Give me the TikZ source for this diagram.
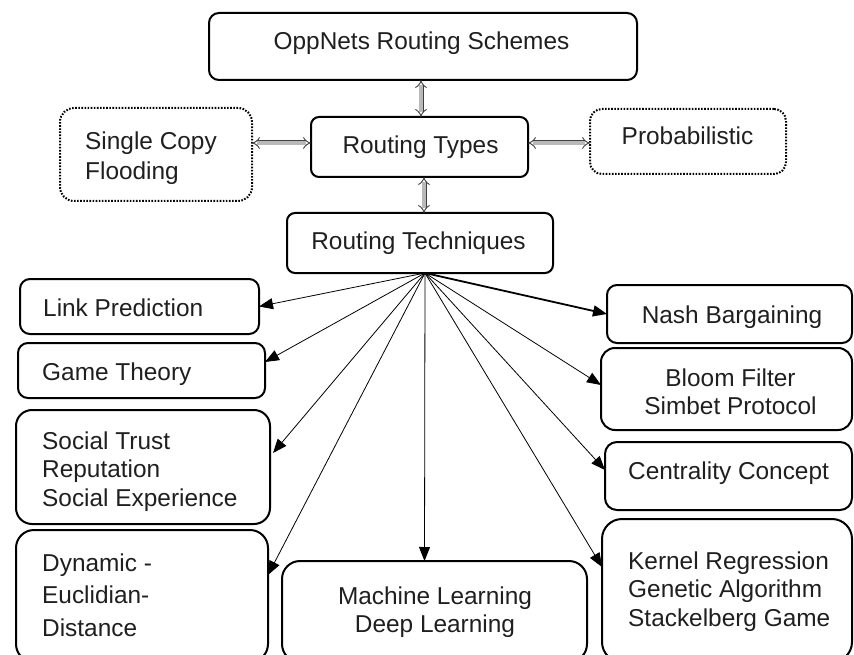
\documentclass[tikz,border=0pt]{standalone}
\usepackage{fontspec}
\setmainfont{Liberation Sans}
\usetikzlibrary{arrows.meta}
% multi-line box text whose baseline is the first line
\newcommand\boxtext[2]{\begin{tabular}[t]{@{}#1@{}}#2\end{tabular}}
\begin{document}
\begin{tikzpicture}[x=1pt,y=-1pt,
  solidbox/.style={draw=black, line width=2pt, rounded corners=#1,
    anchor=north west, inner sep=0pt, outer sep=0pt},
  solidbox/.default=10pt,
  dotbox/.style={draw=black, line width=2pt, dash pattern=on 1.6pt off 1.5pt,
    rounded corners=#1, anchor=north west, inner sep=0pt, outer sep=0pt},
  dotbox/.default=13pt,
  txt/.style={inner sep=0pt, font=\fontsize{24.4}{28}\selectfont, text=black!88},
  spoke/.style={draw=black, line width=0.8pt, -{Triangle[length=14pt,width=11pt]}},
  dbl/.style={{Implies[scale=1.2]}-{Implies[scale=1.2]}, draw=black!75, line width=0.9pt,
    double=gray!55, double distance=3.2pt}]
\useasboundingbox (0,0) rectangle (854,655);

% upper part: scheme, types, techniques
\node[solidbox, minimum width=428pt, minimum height=67pt] (top) at (209,13) {};
\node[txt, anchor=base] (top-t) at (421.5,50) {OppNets Routing Schemes};

\node[solidbox=8pt, minimum width=217pt, minimum height=60pt] (rtypes) at (311,117) {};
\node[txt, anchor=base] (rtypes-t) at (420.5,154) {Routing Types};

\node[solidbox=8pt, minimum width=266pt, minimum height=60pt] (rtech) at (287,213) {};
\node[txt, anchor=base] (rtech-t) at (418.5,250) {Routing Techniques};

\node[dotbox=14pt, minimum width=192pt, minimum height=93pt] (single) at (60,108) {};
\node[txt, anchor=base west] (single-t) at (85,150) {\boxtext{l}{Single Copy\\[2pt] Flooding}};

\node[dotbox=12pt, minimum width=196pt, minimum height=65pt] (prob) at (590,109) {};
\node[txt, anchor=base] (prob-t) at (687.5,145) {Probabilistic};

% left column of techniques
\node[solidbox, minimum width=239pt, minimum height=55pt] (link) at (20,279) {};
\node[txt, anchor=base west] (link-t) at (43,316) {Link Prediction};

\node[solidbox, minimum width=247pt, minimum height=55pt] (game) at (18,343) {};
\node[txt, anchor=base west] (game-t) at (42,380) {Game Theory};

\node[solidbox=16pt, minimum width=254pt, minimum height=114pt] (social) at (16,410) {};
\node[txt, anchor=base west] (social-t) at (42,449)
  {\boxtext{l}{Social Trust\\[0.5pt] Reputation\\[0.5pt] Social Experience}};

\node[solidbox=18pt, minimum width=252pt, minimum height=132pt] (dyn) at (16,530) {};
\node[txt, anchor=base west] (dyn-t) at (42,571)
  {\boxtext{l}{Dynamic -\\[4.5pt] Euclidian-\\[4.5pt] Distance}};

% middle
\node[solidbox=18pt, minimum width=305pt, minimum height=101pt] (ml) at (282,561) {};
\node[txt, anchor=base] (ml-t) at (435,604) {\boxtext{c}{Machine Learning\\ Deep Learning}};

% right column of techniques
\node[solidbox, minimum width=245pt, minimum height=58pt] (nash) at (607,285) {};
\node[txt, anchor=base] (nash-t) at (732,323) {Nash Bargaining};

\node[solidbox=14pt, minimum width=251pt, minimum height=82pt] (bloom) at (601,348) {};
\node[txt, anchor=base] (bloom-t) at (730.5,386) {\boxtext{c}{Bloom Filter\\ Simbet Protocol}};

\node[solidbox=12pt, minimum width=247pt, minimum height=68pt] (cent) at (605,442) {};
\node[txt, anchor=base west] (cent-t) at (628,479) {Centrality Concept};

\node[solidbox=20pt, minimum width=250pt, minimum height=143pt] (kern) at (602,519) {};
\node[txt, anchor=base west] (kern-t) at (628,569)
  {\boxtext{l}{Kernel Regression\\[0.5pt] Genetic Algorithm\\[0.5pt] Stackelberg Game}};

% two-way links between the routing levels
\draw[dbl] ([xshift=-2pt]top.south) -- ([xshift=1.5pt]rtypes.north);
\draw[dbl] ([xshift=4.5pt]rtypes.south) -- ([xshift=4pt]rtech.north);
\draw[dbl] ([yshift=11.5pt]single.east) -- ([yshift=4pt]rtypes.west);
\draw[dbl] ([yshift=4pt]rtypes.east) -- ([yshift=-1.5pt]prob.west);

% spokes from the techniques box
\draw[spoke] ([xshift=5pt]rtech.south) -- (link.east);
\draw[spoke] ([xshift=5pt]rtech.south) -- ([yshift=8.5pt]game.east);
\draw[spoke] ([xshift=5pt]rtech.south) -- ([xshift=3pt,yshift=14pt]social.east);
\draw[spoke] ([xshift=5pt]rtech.south) -- ([yshift=21pt]dyn.east);
\draw[spoke] ([xshift=5pt]rtech.south) -- ([xshift=-10pt]ml.north);
\draw[spoke] ([xshift=5pt]rtech.south) -- ([yshift=23.5pt]kern.west);
\draw[spoke] ([xshift=5pt]rtech.south) -- ([yshift=6pt]cent.west);
\draw[spoke] ([xshift=5pt]rtech.south) -- ([yshift=4pt]bloom.west);
\draw[spoke, line width=1.8pt] ([xshift=5pt]rtech.south) -- (nash.west);
\end{tikzpicture}
\end{document}
